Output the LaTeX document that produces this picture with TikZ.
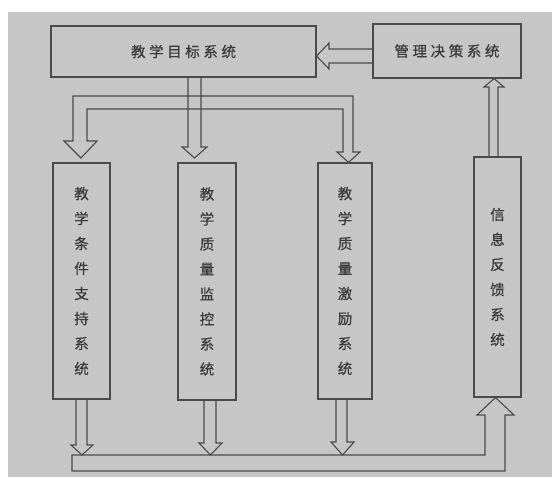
\documentclass[tikz,border=0pt]{standalone}
\usepackage{fontspec}
\newfontfamily\cjk[FakeBold=0.6]{Noto Sans CJK SC}
\definecolor{bgc}{RGB}{198,198,198}
\definecolor{lnc}{RGB}{74,74,74}
\definecolor{txc}{RGB}{58,58,58}
\tikzset{
  sysbox/.style={draw=lnc, line width=1.2pt, inner sep=0pt, text=txc,
    font=\cjk\fontsize{14.5}{25}\selectfont, align=center},
  hollow/.style={draw=lnc, line width=1.1pt, line join=miter}
}
\newcommand{\hsp}{\kern3.6pt}
\begin{document}
\begin{tikzpicture}[x=1pt,y=-1pt]
\useasboundingbox (0,0) rectangle (552,477);
\fill[white] (0,0) rectangle (552,477);
\fill[bgc] (8,12) rectangle (552,477);

% boxes
\node[sysbox, minimum width=265pt, minimum height=51pt] (T) at (183.5,51.5)
  {教\hsp 学\hsp 目\hsp 标\hsp 系\hsp 统};
\node[sysbox, minimum width=148pt, minimum height=54pt] (M) at (447,51)
  {管\hsp 理\hsp 决\hsp 策\hsp 系\hsp 统};
\node[sysbox, minimum width=57pt, minimum height=236pt] (B1) at (81.5,281)
  {教\\学\\条\\件\\支\\持\\系\\统};
\node[sysbox, minimum width=58pt, minimum height=237pt] (B2) at (207,281.5)
  {教\\学\\质\\量\\监\\控\\系\\统};
\node[sysbox, minimum width=54pt, minimum height=236pt] (B3) at (345,281)
  {教\\学\\质\\量\\激\\励\\系\\统};
\node[sysbox, minimum width=47pt, minimum height=240pt] (B4) at (497.5,277)
  {信\\息\\反\\馈\\系\\统};

% M -> T
\draw[hollow] (M.west |- 0,49) -- (329,49) -- (329,43) -- (T.east |- 0,56)
  -- (329,69) -- (329,63) -- (M.west |- 0,63);

% T -> B2 (middle shaft)
\draw[hollow] (188,0 |- T.south) -- (188,147) -- (182,147) -- (194.5,158)
  -- (207,147) -- (201,147) -- (201,0 |- T.south);

% branch band to B1 and B3
\draw[hollow] (343,109) -- (87,109) -- (87,141) -- (97,141) -- (81,158)
  -- (64,141) -- (73,141) -- (73,96) -- (353,96) -- (353,152) -- (360,152)
  -- (348.5,0 |- B3.north) -- (337,152) -- (343,152) -- cycle;

% B4 -> M
\draw[hollow] (489,0 |- B4.north) -- (489,87) -- (484,87) -- (494,0 |- M.south)
  -- (504,87) -- (498,87) -- (498,0 |- B4.north);

% bottom arrows from boxes
\draw[hollow] (76,0 |- B1.south) -- (76,445) -- (71,445) -- (82,455)
  -- (93,445) -- (87,445) -- (87,0 |- B1.south);
\draw[hollow] (204,0 |- B2.south) -- (204,443) -- (199,443) -- (210.5,455)
  -- (222,443) -- (216,443) -- (216,0 |- B2.south);
\draw[hollow] (336,0 |- B3.south) -- (336,442) -- (331,442) -- (342.5,455)
  -- (354,442) -- (347,442) -- (347,0 |- B3.south);

% bottom band up to B4
\draw[hollow] (72,455) -- (485,455) -- (485,415) -- (477,415)
  -- (495.5,0 |- B4.south) -- (514,415) -- (505,415) -- (505,471)
  -- (72,471) -- cycle;
\end{tikzpicture}
\end{document}
